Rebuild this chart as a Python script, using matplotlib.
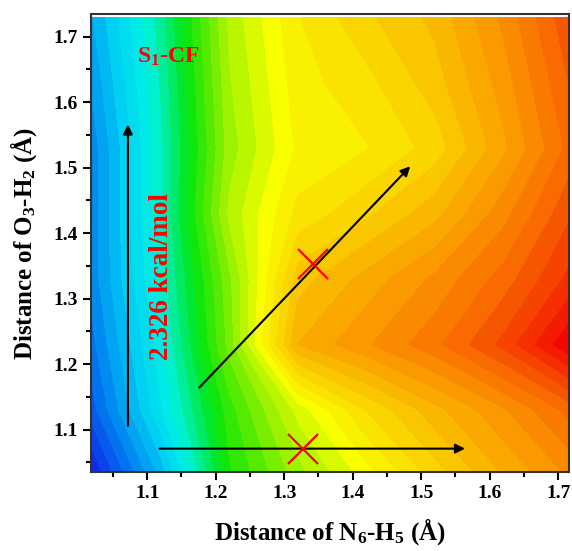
import numpy as np
import matplotlib.pyplot as plt
from matplotlib.colors import LinearSegmentedColormap
from matplotlib.ticker import MultipleLocator

plt.rcParams['font.family'] = 'Liberation Serif'
plt.rcParams['font.weight'] = 'bold'
plt.rcParams['axes.labelweight'] = 'bold'
plt.rcParams['mathtext.fontset'] = 'custom'
plt.rcParams['mathtext.rm'] = 'Liberation Serif:bold'
plt.rcParams['mathtext.default'] = 'rm'

# grid of the scan (Angstrom)
d_nh = [1.02, 1.12, 1.22, 1.32, 1.42, 1.52, 1.62, 1.72]
d_oh = [1.03, 1.13, 1.23, 1.33, 1.43, 1.53, 1.63, 1.73]

# relative energy (normalised), rows = d_oh, cols = d_nh
energy = [
    [0.00, 0.17, 0.40, 0.50, 0.58, 0.66, 0.73, 0.79],
    [0.07, 0.24, 0.42, 0.55, 0.65, 0.72, 0.78, 0.85],
    [0.10, 0.26, 0.47, 0.73, 0.78, 0.83, 0.90, 1.00],
    [0.12, 0.28, 0.48, 0.69, 0.74, 0.79, 0.85, 0.93],
    [0.12, 0.29, 0.52, 0.63, 0.67, 0.72, 0.80, 0.89],
    [0.12, 0.29, 0.50, 0.60, 0.62, 0.66, 0.75, 0.85],
    [0.14, 0.30, 0.51, 0.61, 0.64, 0.69, 0.77, 0.87],
    [0.16, 0.31, 0.52, 0.62, 0.67, 0.71, 0.79, 0.89],
]

# arrows (start, end) and crossing points
arrows = [((1.072, 1.106), (1.072, 1.566)),
          ((1.118, 1.071), (1.564, 1.071)),
          ((1.176, 1.164), (1.484, 1.502))]
cross_x = [1.342, 1.328]
cross_y = [1.353, 1.071]

colors = [(0.00, (0.08, 0.12, 0.90)),
          (0.10, (0.00, 0.47, 0.94)),
          (0.20, (0.00, 0.82, 0.95)),
          (0.27, (0.00, 0.95, 0.90)),
          (0.33, (0.00, 0.92, 0.45)),
          (0.38, (0.00, 0.90, 0.05)),
          (0.45, (0.35, 0.92, 0.00)),
          (0.52, (0.70, 0.96, 0.00)),
          (0.58, (0.98, 1.00, 0.00)),
          (0.68, (0.98, 0.80, 0.00)),
          (0.82, (0.98, 0.50, 0.00)),
          (1.00, (0.95, 0.00, 0.00))]
cmap = LinearSegmentedColormap.from_list('rainbow_origin', colors)

fig = plt.figure(figsize=(5.72, 5.51), dpi=100)
ax = fig.add_axes([0.159, 0.143, 0.836, 0.832])

X, Y = np.meshgrid(d_nh, d_oh)
Z = np.array(energy)
ax.contourf(X, Y, Z, levels=np.linspace(0, 1, 38), cmap=cmap, vmin=0, vmax=1)

for (x0, y0), (x1, y1) in arrows:
    ax.annotate('', xy=(x1, y1), xytext=(x0, y0),
                arrowprops=dict(arrowstyle='-|>', color='black', lw=1.5,
                                mutation_scale=14, shrinkA=0, shrinkB=0))

ax.plot(cross_x, cross_y, 'x', color='red', markersize=21, mew=1.6, zorder=5)

ax.text(1.131, 1.669, r'S$_1$-CF', color='red', fontsize=17, ha='center', va='center')
ax.text(1.121, 1.333, '2.326 kcal/mol', color='red', fontsize=19.5,
        rotation=90, ha='center', va='center')

ax.set_xlim(1.018, 1.716)
ax.set_ylim(1.035, 1.735)
ax.set_xticks([1.1, 1.2, 1.3, 1.4, 1.5, 1.6, 1.7])
ax.set_yticks([1.1, 1.2, 1.3, 1.4, 1.5, 1.6, 1.7])
ax.xaxis.set_minor_locator(MultipleLocator(0.05))
ax.yaxis.set_minor_locator(MultipleLocator(0.05))
ax.tick_params(which='major', direction='out', length=6, width=1.5, labelsize=14)
ax.tick_params(which='minor', direction='out', length=3.5, width=1.5)
for s in ax.spines.values():
    s.set_linewidth(1.5)
    s.set_color('#333333')

ax.set_xlabel('Distance of N$_6$-H$_5$ (Å)', fontsize=18, labelpad=10)
ax.set_ylabel('Distance of O$_3$-H$_2$ (Å)', fontsize=18, labelpad=10)

fig.savefig('out.png', dpi=100)
